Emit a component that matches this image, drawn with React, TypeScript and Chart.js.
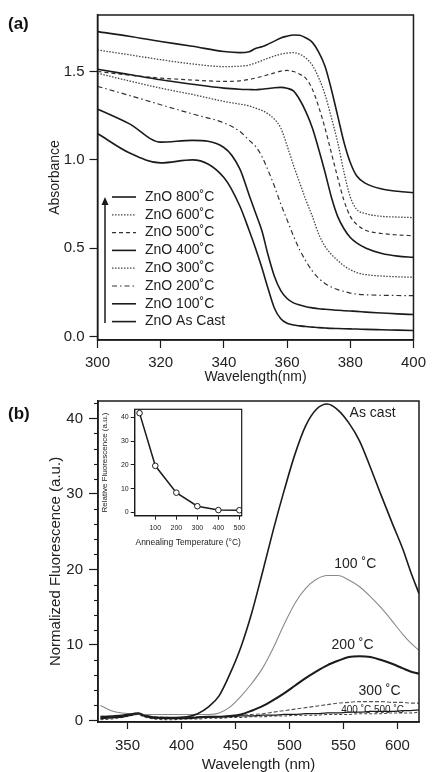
import React, { useEffect, useRef } from "react";
import { Chart, registerables } from "chart.js";

Chart.register(...registerables);

const FONT_FAMILY = "'Liberation Sans', Arial, Helvetica, sans-serif";
const INK = "#1b1b1b";
const TEXT = "#222";

// ---------------- Panel (a): absorbance ----------------
const wavelengthA = [300, 310, 320, 330, 340, 345, 348, 350, 352, 354, 356, 358, 360, 362, 364, 366, 368, 370, 372, 374, 376, 378, 380, 382, 385, 390, 395, 400];
const absAsCast = [1.149, 1.04, 0.983, 1.0, 0.9, 0.74, 0.6, 0.5, 0.39, 0.27, 0.16, 0.1, 0.075, 0.065, 0.06, 0.056, 0.053, 0.05, 0.048, 0.046, 0.045, 0.044, 0.043, 0.042, 0.04, 0.038, 0.036, 0.034];
const abs100 = [1.288, 1.205, 1.1, 1.11, 1.07, 0.95, 0.8, 0.7, 0.6, 0.46, 0.34, 0.26, 0.215, 0.19, 0.178, 0.168, 0.162, 0.157, 0.154, 0.151, 0.148, 0.146, 0.144, 0.142, 0.138, 0.133, 0.128, 0.124];
const abs200 = [1.416, 1.365, 1.312, 1.26, 1.209, 1.162, 1.11, 1.077, 1.02, 0.94, 0.85, 0.75, 0.66, 0.57, 0.49, 0.425, 0.37, 0.33, 0.3, 0.28, 0.265, 0.255, 0.245, 0.24, 0.236, 0.233, 0.232, 0.231];
const abs300 = [1.49, 1.447, 1.406, 1.37, 1.331, 1.315, 1.305, 1.293, 1.28, 1.26, 1.23, 1.18, 1.08, 0.97, 0.87, 0.77, 0.68, 0.58, 0.51, 0.465, 0.43, 0.4, 0.378, 0.362, 0.35, 0.342, 0.338, 0.335];
const abs400 = [1.513, 1.483, 1.453, 1.428, 1.406, 1.4, 1.398, 1.397, 1.4, 1.404, 1.408, 1.41, 1.405, 1.39, 1.34, 1.27, 1.18, 1.06, 0.93, 0.79, 0.68, 0.61, 0.56, 0.53, 0.5, 0.47, 0.455, 0.448];
const abs500 = [1.5, 1.48, 1.463, 1.452, 1.444, 1.447, 1.455, 1.463, 1.472, 1.482, 1.492, 1.502, 1.506, 1.5, 1.485, 1.46, 1.4, 1.3, 1.18, 1.04, 0.9, 0.77, 0.68, 0.635, 0.6, 0.583, 0.575, 0.57];
const abs600 = [1.622, 1.595, 1.567, 1.543, 1.528, 1.53, 1.537, 1.548, 1.562, 1.576, 1.588, 1.598, 1.604, 1.607, 1.598, 1.575, 1.535, 1.465, 1.37, 1.24, 1.1, 0.93, 0.79, 0.72, 0.695, 0.68, 0.676, 0.673];
const abs800 = [1.726, 1.7, 1.67, 1.643, 1.613, 1.607, 1.612, 1.63, 1.64, 1.655, 1.672, 1.69, 1.7, 1.707, 1.705, 1.69, 1.665, 1.61, 1.53, 1.4, 1.25, 1.1, 0.985, 0.91, 0.865, 0.835, 0.822, 0.814];
const seriesLabelsA = ["ZnO As Cast", "ZnO 100˚C", "ZnO 200˚C", "ZnO 300˚C", "ZnO 400˚C", "ZnO 500˚C", "ZnO 600˚C", "ZnO 800˚C"];
const xTicksA = { min: 300, max: 400, step: 20 };
const yTicksA = { min: -0.02, max: 1.82, step: 0.5 };

// ---------------- Panel (b): fluorescence ----------------
const wavelengthB = [325, 335, 345, 355, 360, 365, 375, 390, 405, 415, 425, 435, 445, 455, 465, 475, 485, 495, 505, 515, 525, 535, 545, 555, 565, 575, 585, 595, 605, 612, 620];
const flAsCast = [0.5, 0.6, 0.7, 0.9, 1.0, 0.7, 0.4, 0.4, 0.5, 0.9, 1.8, 3.3, 6.2, 9.7, 14.2, 19.6, 25.2, 30.4, 35.2, 39.0, 41.2, 41.9, 41.1, 39.4, 37.0, 33.5, 29.8, 26.2, 22.7, 19.8, 16.8];
const fl100 = [2.0, 1.3, 1.0, 0.9, 0.9, 0.8, 0.8, 0.8, 0.8, 0.8, 0.8, 1.0, 1.8, 3.2, 4.9, 6.9, 9.6, 12.7, 15.5, 17.5, 18.7, 19.2, 19.2, 18.6, 17.7, 16.4, 14.9, 13.2, 11.4, 10.3, 9.3];
const fl200 = [0.3, 0.4, 0.5, 0.8, 0.9, 0.7, 0.4, 0.3, 0.3, 0.4, 0.5, 0.5, 0.6, 0.8, 1.3, 1.9, 2.7, 3.6, 4.6, 5.6, 6.5, 7.3, 7.9, 8.4, 8.5, 8.4, 8.0, 7.5, 6.9, 6.5, 6.2];
const fl300 = [0.6, 0.5, 0.6, 0.8, 0.9, 0.7, 0.5, 0.4, 0.4, 0.5, 0.5, 0.5, 0.6, 0.7, 0.8, 0.9, 1.1, 1.3, 1.5, 1.7, 1.9, 2.1, 2.3, 2.4, 2.5, 2.5, 2.5, 2.4, 2.4, 2.3, 2.3];
const fl400 = [0.3, 0.4, 0.5, 0.8, 0.9, 0.6, 0.3, 0.3, 0.3, 0.4, 0.4, 0.5, 0.5, 0.6, 0.6, 0.7, 0.7, 0.8, 0.8, 0.9, 0.9, 1.0, 1.0, 1.1, 1.1, 1.2, 1.2, 1.2, 1.3, 1.3, 1.4];
const fl500 = [0.1, 0.2, 0.4, 0.7, 0.8, 0.5, 0.2, 0.1, 0.2, 0.2, 0.3, 0.3, 0.4, 0.4, 0.5, 0.5, 0.6, 0.6, 0.7, 0.7, 0.7, 0.8, 0.8, 0.8, 0.9, 0.9, 0.9, 1.0, 1.0, 1.0, 1.1];
const seriesLabelsB = ["As cast", "100 ˚C", "200 ˚C", "300 ˚C", "400 ˚C", "500 ˚C"];
const xTicksB = { min: 322.7, max: 620, step: 50 };
const yTicksB = { min: -0.2, max: 42.3, step: 10, minorStep: 2 };

// ---------------- Inset ----------------
const annealTemp = [25, 100, 200, 300, 400, 500];
const relFluorescence = [41.8, 19.6, 8.3, 2.6, 0.97, 0.9];
const insetXTicks = [100, 200, 300, 400, 500];
const insetYTicks = [0, 10, 20, 30, 40];
const insetXRange = { min: 2, max: 511 };
const insetYRange = { min: -1.4, max: 43.4 };

const toPoints = (xs: number[], ys: number[]) => xs.map((x, i) => ({ x, y: ys[i] }));

// draws the full box around the plot area
const framePlugin = {
  id: "frame",
  afterDatasetsDraw(chart: any, _a: any, opts: any) {
    const { ctx, chartArea } = chart;
    ctx.save();
    ctx.strokeStyle = INK;
    ctx.lineWidth = opts.lineWidth || 1.5;
    ctx.strokeRect(chartArea.left, chartArea.top, chartArea.right - chartArea.left, chartArea.bottom - chartArea.top);
    ctx.restore();
  },
};

// legend with upward arrow for panel (a)
const legendArrowPlugin = {
  id: "legendArrow",
  afterDraw(chart: any, _a: any, opts: any) {
    const { ctx } = chart;
    const items = chart.data.datasets.slice().reverse();
    ctx.save();
    ctx.strokeStyle = INK;
    ctx.lineWidth = 1.5;
    ctx.beginPath();
    ctx.moveTo(opts.arrowX, opts.arrowBottom);
    ctx.lineTo(opts.arrowX, opts.arrowTop + 6);
    ctx.stroke();
    ctx.fillStyle = INK;
    ctx.beginPath();
    ctx.moveTo(opts.arrowX, opts.arrowTop);
    ctx.lineTo(opts.arrowX - 3.5, opts.arrowTop + 8);
    ctx.lineTo(opts.arrowX + 3.5, opts.arrowTop + 8);
    ctx.closePath();
    ctx.fill();
    ctx.font = `${opts.fontSize}px ${FONT_FAMILY}`;
    ctx.textBaseline = "middle";
    ctx.textAlign = "left";
    items.forEach((ds: any, i: number) => {
      const y = opts.firstY + i * opts.rowHeight;
      ctx.strokeStyle = ds.borderColor;
      ctx.lineWidth = ds.borderWidth;
      ctx.setLineDash(ds.borderDash || []);
      ctx.beginPath();
      ctx.moveTo(opts.sampleX0, y);
      ctx.lineTo(opts.sampleX1, y);
      ctx.stroke();
      ctx.setLineDash([]);
      ctx.fillStyle = TEXT;
      ctx.fillText(ds.label, opts.textX, y);
    });
    ctx.restore();
  },
};

// text labels next to curves, placed in data coordinates
const curveLabelPlugin = {
  id: "curveLabels",
  afterDraw(chart: any, _a: any, opts: any) {
    const { ctx, scales } = chart;
    ctx.save();
    ctx.fillStyle = TEXT;
    ctx.textAlign = "center";
    ctx.textBaseline = "middle";
    (opts.items || []).forEach((it: any) => {
      ctx.font = `${it.size}px ${FONT_FAMILY}`;
      ctx.fillText(it.text, scales.x.getPixelForValue(it.x), scales.y.getPixelForValue(it.y));
    });
    ctx.restore();
  },
};

// minor y ticks
const minorTickPlugin = {
  id: "minorTicks",
  afterDraw(chart: any, _a: any, opts: any) {
    const { ctx, scales, chartArea } = chart;
    const y = scales.y;
    ctx.save();
    ctx.strokeStyle = INK;
    ctx.lineWidth = 1.1;
    for (let v = 0; v <= y.max; v += opts.step) {
      if (Math.abs(v % opts.major) < 1e-9) continue;
      const py = Math.round(y.getPixelForValue(v)) + 0.5;
      ctx.beginPath();
      ctx.moveTo(chartArea.left - opts.length, py);
      ctx.lineTo(chartArea.left, py);
      ctx.stroke();
    }
    ctx.restore();
  },
};

const axisCommon = (tickLen: number, tickWidth: number) => ({
  grid: { display: true, drawOnChartArea: false, drawTicks: true, tickLength: tickLen, tickColor: INK, tickWidth },
  border: { display: true, color: INK, width: 1.5 },
});

export default function App() {
  const refA = useRef<HTMLCanvasElement>(null);
  const refB = useRef<HTMLCanvasElement>(null);
  const refI = useRef<HTMLCanvasElement>(null);

  useEffect(() => {
    Chart.defaults.font.family = FONT_FAMILY;
    Chart.defaults.color = TEXT;

    const absSeries = [absAsCast, abs100, abs200, abs300, abs400, abs500, abs600, abs800];
    const absStyles = [
      { color: INK, width: 1.6, dash: [] as number[] },
      { color: INK, width: 1.6, dash: [] },
      { color: "#333", width: 1.2, dash: [5, 3, 1.5, 3] },
      { color: "#444", width: 1.3, dash: [1.5, 1.5] },
      { color: INK, width: 1.6, dash: [] },
      { color: "#333", width: 1.2, dash: [4, 3] },
      { color: "#444", width: 1.3, dash: [1.5, 1.5] },
      { color: INK, width: 1.6, dash: [] },
    ];

    const chartA = new Chart(refA.current!, {
      type: "line",
      data: {
        datasets: absSeries.map((ys, i) => ({
          label: seriesLabelsA[i],
          data: toPoints(wavelengthA, ys),
          borderColor: absStyles[i].color,
          borderWidth: absStyles[i].width,
          borderDash: absStyles[i].dash,
          pointRadius: 0,
          cubicInterpolationMode: "monotone",
          fill: false,
        })),
      },
      options: {
        responsive: false,
        animation: false,
        layout: { padding: { left: 43, top: 15, right: 13, bottom: 0 } },
        plugins: {
          legend: { display: false },
          tooltip: { enabled: false },
          frame: { lineWidth: 1.5 },
          legendArrow: {
            arrowX: 105, arrowTop: 197, arrowBottom: 323,
            sampleX0: 112, sampleX1: 136, textX: 145,
            firstY: 197, rowHeight: 17.8, fontSize: 14,
          },
        } as any,
        scales: {
          x: {
            type: "linear",
            min: xTicksA.min,
            max: xTicksA.max,
            ...axisCommon(8, 1.2),
            ticks: { stepSize: xTicksA.step, includeBounds: false, font: { size: 15 }, color: TEXT, padding: 6, maxRotation: 0 },
            title: { display: true, text: "Wavelength(nm)", font: { size: 14 }, color: TEXT, padding: { top: 0, bottom: 4 } },
            afterFit: (s: any) => { s.height = 50; },
          },
          y: {
            type: "linear",
            min: yTicksA.min,
            max: yTicksA.max,
            ...axisCommon(8, 1.2),
            ticks: { stepSize: yTicksA.step, includeBounds: false, font: { size: 15 }, color: TEXT, padding: 5, callback: (v: any) => Number(v).toFixed(1) },
            title: { display: true, text: "Absorbance", font: { size: 14 }, color: TEXT, padding: { top: 4, bottom: 0 } },
            afterFit: (s: any) => { s.width = 54.5; },
          },
        } as any,
      },
      plugins: [framePlugin, legendArrowPlugin],
    } as any);

    const flSeries = [flAsCast, fl100, fl200, fl300, fl400, fl500];
    const flStyles = [
      { color: INK, width: 1.6, dash: [] as number[] },
      { color: "#8a8a8a", width: 1.1, dash: [] },
      { color: INK, width: 2.1, dash: [] },
      { color: "#555", width: 1.1, dash: [4, 2] },
      { color: INK, width: 1.3, dash: [] },
      { color: "#444", width: 1.1, dash: [3, 2] },
    ];

    const chartB = new Chart(refB.current!, {
      type: "line",
      data: {
        datasets: flSeries.map((ys, i) => ({
          label: seriesLabelsB[i],
          data: toPoints(wavelengthB, ys),
          borderColor: flStyles[i].color,
          borderWidth: flStyles[i].width,
          borderDash: flStyles[i].dash,
          pointRadius: 0,
          cubicInterpolationMode: "monotone",
          fill: false,
        })),
      },
      options: {
        responsive: false,
        animation: false,
        layout: { padding: { left: 43, top: 16, right: 13, bottom: 0 } },
        plugins: {
          legend: { display: false },
          tooltip: { enabled: false },
          frame: { lineWidth: 1.5 },
          minorTicks: { step: yTicksB.minorStep, major: yTicksB.step, length: 4 },
          curveLabels: {
            items: [
              { text: "As cast", x: 577, y: 40.7, size: 14 },
              { text: "100 ˚C", x: 561, y: 20.7, size: 14 },
              { text: "200 ˚C", x: 558.5, y: 10.0, size: 14 },
              { text: "300 ˚C", x: 583.5, y: 3.85, size: 14 },
              { text: "400 ˚C 500 ˚C", x: 577, y: 1.35, size: 10 },
            ],
          },
        } as any,
        scales: {
          x: {
            type: "linear",
            min: xTicksB.min,
            max: xTicksB.max,
            ...axisCommon(7, 1.2),
            ticks: { stepSize: xTicksB.step, includeBounds: false, font: { size: 15 }, color: TEXT, padding: 8, maxRotation: 0 },
            title: { display: true, text: "Wavelength (nm)", font: { size: 15, lineHeight: 1 }, color: TEXT, padding: { top: 0, bottom: 0 } },
            afterFit: (s: any) => { s.height = 50; },
          },
          y: {
            type: "linear",
            min: yTicksB.min,
            max: yTicksB.max,
            ...axisCommon(9, 1.2),
            ticks: { stepSize: yTicksB.step, includeBounds: false, font: { size: 15 }, color: TEXT, padding: 6 },
            title: { display: true, text: "Normalized Fluorescence (a.u.)", font: { size: 15 }, color: TEXT, padding: { top: 4, bottom: 0 } },
            afterFit: (s: any) => { s.width = 55; },
          },
        } as any,
      },
      plugins: [framePlugin, minorTickPlugin, curveLabelPlugin],
    } as any);

    const chartI = new Chart(refI.current!, {
      type: "line",
      data: {
        datasets: [
          {
            label: "Relative Fluorescence",
            data: toPoints(annealTemp, relFluorescence),
            borderColor: INK,
            borderWidth: 1.5,
            pointRadius: 2.8,
            pointBackgroundColor: "#fff",
            pointBorderColor: INK,
            pointBorderWidth: 1,
            tension: 0,
            fill: false,
          },
        ],
      },
      options: {
        responsive: false,
        animation: false,
        layout: { padding: { left: 5, top: 6.3, right: 8.3, bottom: 0 } },
        plugins: {
          legend: { display: false },
          tooltip: { enabled: false },
          frame: { lineWidth: 1.2 },
        } as any,
        scales: {
          x: {
            type: "linear",
            min: insetXRange.min,
            max: insetXRange.max,
            grid: { display: true, drawOnChartArea: false, drawTicks: true, tickLength: 4, tickColor: INK, tickWidth: 1 },
            border: { display: true, color: INK, width: 1.2 },
            ticks: { font: { size: 7 }, color: TEXT, padding: 4, maxRotation: 0, autoSkip: false },
            afterBuildTicks: (s: any) => { s.ticks = insetXTicks.map((value) => ({ value })); },
            title: { display: true, text: "Annealing Temperature (°C)", font: { size: 8.5 }, color: TEXT, padding: { top: 0, bottom: 5 } },
            afterFit: (s: any) => { s.height = 37.3; },
          },
          y: {
            type: "linear",
            min: insetYRange.min,
            max: insetYRange.max,
            grid: { display: true, drawOnChartArea: false, drawTicks: true, tickLength: 4, tickColor: INK, tickWidth: 1 },
            border: { display: true, color: INK, width: 1.2 },
            ticks: { font: { size: 7 }, color: TEXT, padding: 2, autoSkip: false },
            afterBuildTicks: (s: any) => { s.ticks = insetYTicks.map((value) => ({ value })); },
            title: { display: true, text: "Relative Fluorescence (a.u.)", font: { size: 8 }, color: TEXT, padding: { top: 0, bottom: 0 } },
            afterFit: (s: any) => { s.width = 34.7; },
          },
        } as any,
      },
      plugins: [framePlugin],
    } as any);

    return () => {
      chartA.destroy();
      chartB.destroy();
      chartI.destroy();
    };
  }, []);

  const panelLabel: React.CSSProperties = {
    position: "absolute",
    left: 8,
    font: `bold 17px ${FONT_FAMILY}`,
    lineHeight: "20px",
    color: "#111",
  };

  return (
    <div style={{ position: "absolute", left: 0, top: 0, width: 432, height: 772, background: "#fff", overflow: "hidden" }}>
      <canvas ref={refA} width={432} height={390} style={{ position: "absolute", left: 0, top: 0, width: 432, height: 390 }} />
      <canvas ref={refB} width={432} height={387} style={{ position: "absolute", left: 0, top: 385, width: 432, height: 387 }} />
      <canvas ref={refI} width={155} height={150} style={{ position: "absolute", left: 95, top: 403, width: 155, height: 150 }} />
      <div style={{ ...panelLabel, top: 14 }}>(a)</div>
      <div style={{ ...panelLabel, top: 404 }}>(b)</div>
    </div>
  );
}
